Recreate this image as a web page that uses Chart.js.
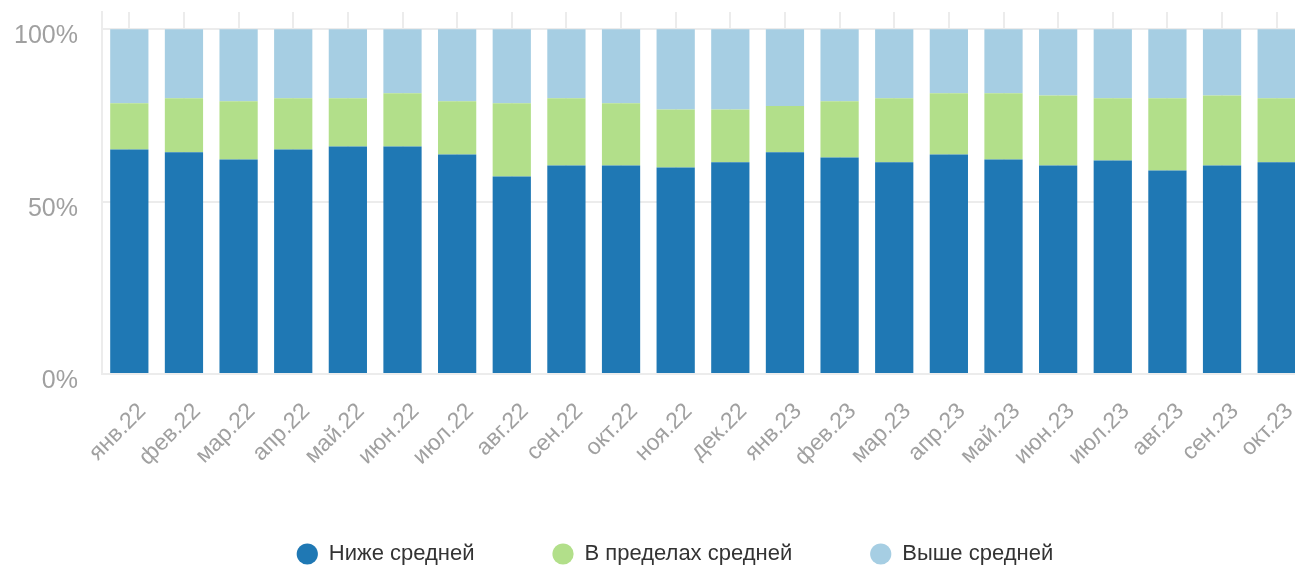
<!DOCTYPE html>
<html lang="ru">
<head>
    <meta charset="UTF-8">
    <title>Распределение по месяцам</title>
    <script src="https://cdn.jsdelivr.net/npm/chart.js"></script>
    <style>
        html, body { margin: 0; padding: 0; background: #fff; overflow: hidden; }
        #wrap { width: 1351px; height: 565px; }
    </style>
</head>
<body>
<div id="wrap"><canvas id="shareChart"></canvas></div>

<script>
    const months = ['янв.22', 'фев.22', 'мар.22', 'апр.22', 'май.22', 'июн.22', 'июл.22', 'авг.22',
        'сен.22', 'окт.22', 'ноя.22', 'дек.22', 'янв.23', 'фев.23', 'мар.23', 'апр.23',
        'май.23', 'июн.23', 'июл.23', 'авг.23', 'сен.23', 'окт.23'];

    // share of each group, %
    const below = [65.1, 64.3, 62.2, 65.1, 66.0, 66.0, 63.7, 57.3, 60.5, 60.5, 59.9,
        61.4, 64.3, 62.8, 61.4, 63.7, 62.2, 60.5, 61.9, 59.0, 60.5, 61.4];
    const within = [13.4, 15.7, 16.9, 14.9, 14.0, 15.4, 15.4, 21.2, 19.5, 18.0, 16.8,
        15.3, 13.4, 16.3, 18.6, 17.7, 19.2, 20.3, 18.1, 21.0, 20.3, 18.6];
    const above = [21.5, 20.0, 20.9, 20.0, 20.0, 18.6, 20.9, 21.5, 20.0, 21.5, 23.3,
        23.3, 22.3, 20.9, 20.0, 18.6, 18.6, 19.2, 20.0, 20.0, 19.2, 20.0];

    const yTicks = [0, 50, 100];

    const font = "'Liberation Sans', Arial, Helvetica, sans-serif";

    // nudge the legend a bit to the right, like in the original
    const legendShift = {
        id: 'legendShift',
        afterLayout(chart) {
            chart.legend.left += 23;
            chart.legend.right += 23;
        }
    };

    new Chart(document.getElementById('shareChart').getContext('2d'), {
        type: 'bar',
        data: {
            labels: months,
            datasets: [
                { label: 'Ниже средней', data: below, backgroundColor: '#1f78b4' },
                { label: 'В пределах средней', data: within, backgroundColor: '#b2df8a' },
                { label: 'Выше средней', data: above, backgroundColor: '#a6cee3' }
            ]
        },
        plugins: [legendShift],
        options: {
            responsive: true,
            maintainAspectRatio: false,
            animation: false,
            layout: { padding: { top: 12, left: 0, right: 47, bottom: -10 } },
            datasets: {
                bar: { barPercentage: 0.7, categoryPercentage: 1.0 }
            },
            scales: {
                x: {
                    stacked: true,
                    afterFit: s => { s.height = 91; s.paddingLeft = 0; s.paddingRight = 0; },
                    grid: { offset: false, color: '#ececec', lineWidth: 2, drawTicks: false },
                    border: { color: '#ececec', width: 2 },
                    ticks: {
                        color: '#a0a0a0',
                        font: { family: font, size: 23 },
                        maxRotation: 45,
                        minRotation: 45,
                        labelOffset: 13,
                        padding: 24
                    }
                },
                y: {
                    stacked: true,
                    min: 0,
                    max: 105,
                    afterBuildTicks: scale => {
                        scale.ticks = yTicks.map(v => ({ value: v }));
                    },
                    afterFit: s => { s.width = 102; s.paddingTop = 0; },
                    grid: { color: '#ececec', lineWidth: 2, drawTicks: false },
                    border: { color: '#ececec', width: 2 },
                    ticks: {
                        color: '#a0a0a0',
                        font: { family: font, size: 25 },
                        padding: 24,
                        labelOffset: 7,
                        callback: v => v + '%'
                    }
                }
            },
            plugins: {
                tooltip: { enabled: false },
                legend: {
                    position: 'bottom',
                    labels: {
                        usePointStyle: true,
                        pointStyle: 'circle',
                        boxWidth: 21,
                        boxHeight: 15,
                        padding: 78,
                        color: '#333',
                        font: { family: font, size: 22 }
                    }
                }
            }
        }
    });
</script>
</body>
</html>
